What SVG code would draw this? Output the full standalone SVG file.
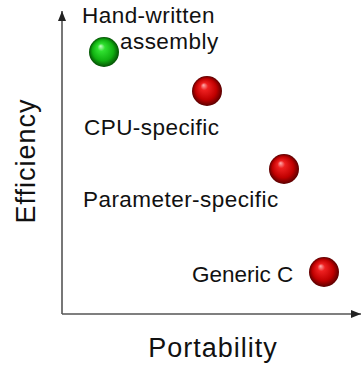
<svg xmlns="http://www.w3.org/2000/svg" width="361" height="366" viewBox="0 0 361 366">
<defs>
<radialGradient id="red" cx="0.5" cy="0.5" r="0.5" fx="0.38" fy="0.3">
<stop offset="0" stop-color="#ffb0b0"/>
<stop offset="0.25" stop-color="#ee2020"/>
<stop offset="0.7" stop-color="#c00000"/>
<stop offset="1" stop-color="#5a0000"/>
</radialGradient>
<radialGradient id="green" cx="0.5" cy="0.5" r="0.5" fx="0.38" fy="0.3">
<stop offset="0" stop-color="#c8ffc8"/>
<stop offset="0.25" stop-color="#30e030"/>
<stop offset="0.7" stop-color="#10b010"/>
<stop offset="1" stop-color="#045004"/>
</radialGradient>
<marker id="arr" viewBox="0 0 10 8" refX="10" refY="4" markerWidth="10" markerHeight="8" markerUnits="userSpaceOnUse" orient="auto">
<path d="M0,0 L10,4 L0,8 z" fill="#222"/>
</marker>
</defs>
<style>
text{font-family:"Liberation Sans",Arial,sans-serif;fill:#111}
.lbl{font-size:22.5px}
.wide{letter-spacing:0.45px}
.ax{font-size:27px;letter-spacing:1px}
</style>
<g id="connectors" stroke="#555" stroke-width="1.6" fill="none">
<path d="M62,314 V11" marker-end="url(#arr)"/>
<path d="M62,314 H361" marker-end="url(#arr)"/>
</g>
<g id="axis-labels">
<text class="ax" transform="translate(35,161) rotate(-90)" text-anchor="middle">Efficiency</text>
<text class="ax" x="213" y="357" text-anchor="middle">Portability</text>
</g>
<g id="asm">
<circle cx="104" cy="52" r="15" fill="url(#green)"/>
<text class="lbl wide" x="82" y="23">Hand-written</text>
<text class="lbl wide" x="120" y="49">assembly</text>
</g>
<g id="cpu">
<circle cx="207" cy="91" r="15" fill="url(#red)"/>
<text class="lbl wide" x="84" y="135">CPU-specific</text>
</g>
<g id="param">
<circle cx="284" cy="169" r="15" fill="url(#red)"/>
<text class="lbl wide" x="83" y="207">Parameter-specific</text>
</g>
<g id="generic">
<circle cx="324" cy="272" r="15" fill="url(#red)"/>
<text class="lbl" x="192" y="282">Generic C</text>
</g>
</svg>
